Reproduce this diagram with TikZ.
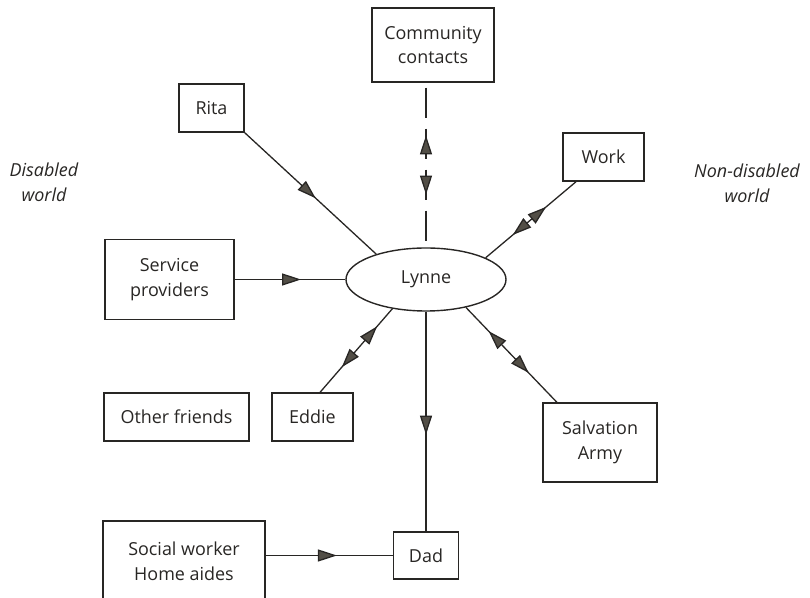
\documentclass[tikz,border=0pt]{standalone}
\usepackage{fontspec}
\setmainfont{Open Sans}
\usetikzlibrary{positioning, shapes.geometric, arrows.meta, decorations.markings}
\definecolor{lineC}{RGB}{40,38,36}
\definecolor{tipGray}{RGB}{82,78,70}

\begin{document}
\begin{tikzpicture}[
    x=1bp, y=1bp, on grid,
    >={Triangle[length=19bp, width=12bp, fill=tipGray]},
    bNode/.style={rectangle, draw=lineC, line width=1.4bp, text=lineC, font={\fontsize{18}{25}\selectfont}, align=center, inner sep=0pt},
    eNode/.style={ellipse, draw=lineC, line width=1.4bp, text=lineC, font={\fontsize{18}{25}\selectfont}, minimum width=160bp, minimum height=63bp, inner sep=0pt},
    tNode/.style={text=lineC, font={\fontsize{18}{25}\selectfont\itshape}, align=center},
    link/.style={draw=lineC, line width=1.3bp},
    fwd/.style={postaction={decorate, decoration={markings, mark=at position #1 with {\arrow{>}}}}},
    bwd/.style={postaction={decorate, decoration={markings, mark=at position #1 with {\arrowreversed{>}}}}}
]
    \useasboundingbox (0,0) rectangle (810,598);
    \node[eNode] (Lynne) at (426,318.5) {Lynne};
    \node[bNode, minimum width=122bp, minimum height=74bp, above=234.5bp of Lynne, xshift=7bp] (CC) {Community\\contacts};
    \node[bNode, minimum width=65bp, minimum height=48bp, above left=171.5bp and 214.5bp of Lynne] (Rita) {Rita};
    \node[bNode, minimum width=81bp, minimum height=48bp, above right=122.5bp and 177.5bp of Lynne] (Work) {Work};
    \node[bNode, minimum width=129bp, minimum height=80bp, left=256.5bp of Lynne] (SP) {Service\\providers};
    \node[bNode, minimum width=81bp, minimum height=48bp, below left=137.5bp and 113.5bp of Lynne] (Eddie) {Eddie};
    \node[bNode, minimum width=145bp, minimum height=48bp, left=136bp of Eddie] (OF) {Other friends};
    \node[bNode, minimum width=114bp, minimum height=79bp, below right=163bp and 174bp of Lynne] (SA) {Salvation\\Army};
    \node[bNode, minimum width=65bp, minimum height=47bp, below=276bp of Lynne] (Dad) {Dad};
    \node[bNode, minimum width=162bp, minimum height=80bp, left=242bp of Dad, yshift=-5.5bp] (SW) {Social worker\\Home aides};
    \node[tNode, above left=97bp and 125.5bp of SP] (DW) {Disabled\\world};
    \node[tNode, below right=26bp and 143.5bp of Work] (NW) {Non-disabled\\world};

    \path[link, fwd=0.54] (Rita.south east) -- (Lynne.153);
    \path[link, fwd=0.6] (SP) -- (Lynne);
    \path[link, dash pattern=on 30bp off 11bp, dash phase=36bp, bwd=0.32, fwd=0.68] (CC.south -| Lynne.north) -- (Lynne.north);
    \path[link, bwd=0.30, fwd=0.67] (Lynne.20) -- (Work.222);
    \path[link, bwd=0.21, fwd=0.70] (Lynne.221) -- (Eddie.73);
    \path[link, bwd=0.25, fwd=0.69] (Lynne.325) -- (SA.137);
    \path[link, fwd=0.56] (Lynne) -- (Dad);
    \path[link, fwd=0.56] (SW.east |- Dad) -- (Dad);
\end{tikzpicture}
\end{document}
